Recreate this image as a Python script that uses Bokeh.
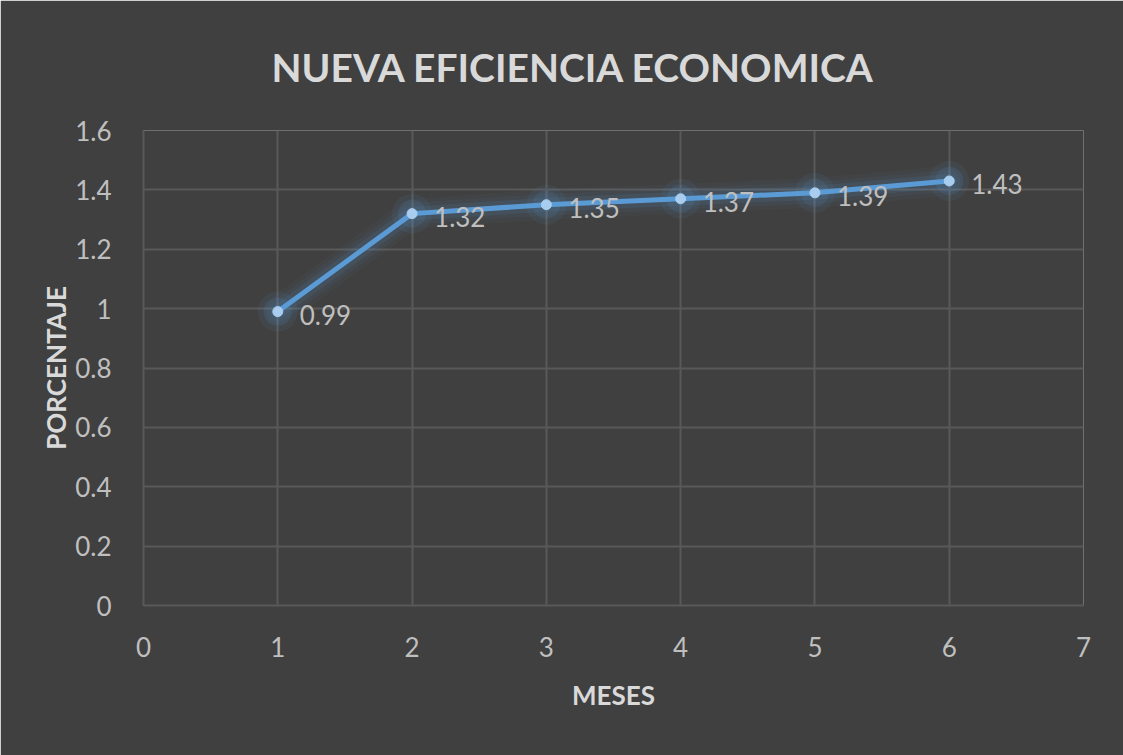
from bokeh.plotting import figure
from bokeh.models import ColumnDataSource, LabelSet, FixedTicker, Range1d, Title
from bokeh.core.properties import value
from bokeh.embed import file_html
from bokeh.resources import INLINE

# Data
meses = [1, 2, 3, 4, 5, 6]
porcentaje = [0.99, 1.32, 1.35, 1.37, 1.39, 1.43]
etiquetas = ["0.99", "1.32", "1.35", "1.37", "1.39", "1.43"]
x_ticks = [0, 1, 2, 3, 4, 5, 6, 7]
y_ticks = [0, 0.2, 0.4, 0.6, 0.8, 1.0, 1.2, 1.4, 1.6]
y_tick_labels = ["0", "0.2", "0.4", "0.6", "0.8", "1", "1.2", "1.4", "1.6"]
titulo = "NUEVA EFICIENCIA ECONOMICA"

BG = "#404040"
GRID = "#595959"
FONT = "Lato"

p = figure(width=1123, height=755, output_backend="svg", toolbar_location=None,
           x_range=Range1d(0, 7), y_range=Range1d(0, 1.6),
           min_border_left=143, min_border_right=40, min_border_top=130, min_border_bottom=150)
p.background_fill_color = BG
p.border_fill_color = BG
p.outline_line_color = None

t = Title(text=titulo, align="left", offset=128, text_font=FONT,
          text_font_size="39px", text_font_style="bold", text_color="#d9d9d9", standoff=81)
p.add_layout(t, "above")

p.xaxis.ticker = FixedTicker(ticks=x_ticks)
p.yaxis.ticker = FixedTicker(ticks=y_ticks)
p.yaxis.major_label_overrides = {v: l for v, l in zip(y_ticks, y_tick_labels)}
p.xgrid.ticker = FixedTicker(ticks=x_ticks)
p.ygrid.ticker = FixedTicker(ticks=y_ticks)
for g in (p.xgrid, p.ygrid):
    g.grid_line_color = GRID
    g.grid_line_width = 2

for ax in (p.xaxis, p.yaxis):
    ax.axis_line_color = GRID
    ax.axis_line_width = 2
    ax.major_tick_line_color = None
    ax.minor_tick_line_color = None
    ax.major_label_text_font = FONT
    ax.major_label_text_font_size = "26px"
    ax.major_label_text_color = "#bfbfbf"
    ax.axis_label_text_font = FONT
    ax.axis_label_text_font_size = "26px"
    ax.axis_label_text_font_style = "bold"
    ax.axis_label_text_color = "#d9d9d9"

p.xaxis.axis_label = "MESES"
p.yaxis.axis_label = "PORCENTAJE"
p.yaxis.major_label_standoff = 26
p.xaxis.major_label_standoff = 25
p.yaxis.axis_label_standoff = 0
p.xaxis.axis_label_standoff = 19

src = ColumnDataSource(dict(x=meses, y=porcentaje, lab=etiquetas))

# glow
for w, a in [(30, 0.04), (22, 0.06), (14, 0.10)]:
    p.line("x", "y", source=src, line_color="#5b9bd5", line_width=w, line_alpha=a, line_join="round", line_cap="round")
for s, a in [(40, 0.08), (28, 0.12)]:
    p.scatter("x", "y", source=src, size=s, fill_color="#5b9bd5", fill_alpha=a, line_color=None)

p.line("x", "y", source=src, line_color="#5b9bd5", line_width=5, line_join="round")
p.scatter("x", "y", source=src, size=10, fill_color="#a9cdef", line_color="#a9cdef")

labels = LabelSet(x="x", y="y", text="lab", source=src, x_offset=22, y_offset=-3,
                  text_baseline="middle", text_align="left", text_font=value(FONT),
                  text_font_size="26px", text_color="#bfbfbf")
p.add_layout(labels)

open("out.html", "w").write(file_html(p, INLINE))
